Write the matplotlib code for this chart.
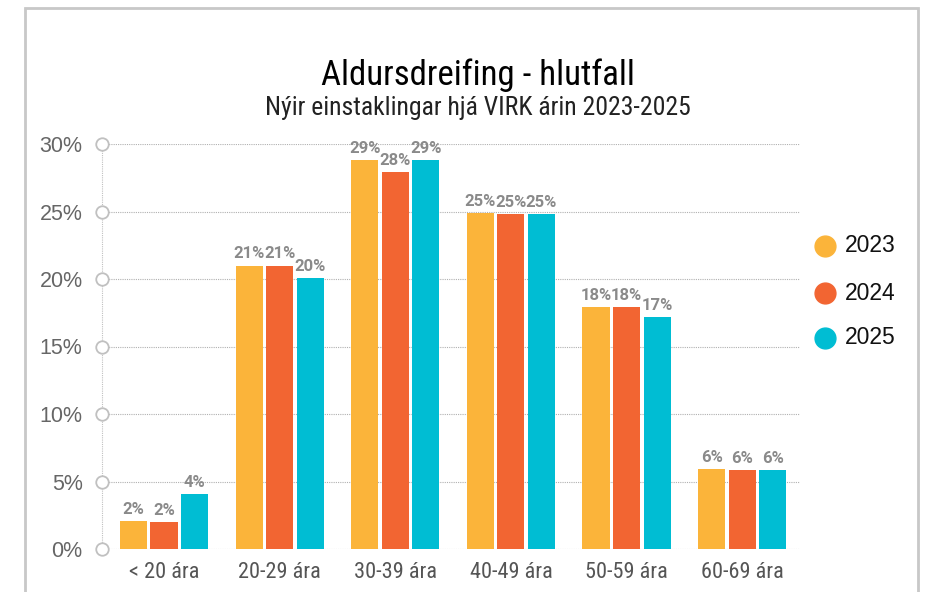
import matplotlib
matplotlib.use("Agg")
import matplotlib.pyplot as plt
import numpy as np
from matplotlib import font_manager
from matplotlib.patches import Rectangle

categories = ["< 20 ára", "20-29 ára", "30-39 ára", "40-49 ára", "50-59 ára", "60-69 ára"]
years = ["2023", "2024", "2025"]
share_2023 = [2.1, 21.0, 28.8, 24.9, 17.9, 5.9]
share_2024 = [2.0, 21.0, 27.9, 24.8, 17.9, 5.85]
share_2025 = [4.1, 20.1, 28.8, 24.8, 17.2, 5.85]
yticks = [0, 5, 10, 15, 20, 25, 30]

colors = ["#FBB43A", "#F26532", "#00BDD3"]
series = [share_2023, share_2024, share_2025]

names = {f.name for f in font_manager.fontManager.ttflist}
narrow_opts = [n for n in ["Roboto Condensed", "Liberation Sans Narrow", "Open Sans Condensed", "Roboto"] if n in names]
narrow = narrow_opts[0] if narrow_opts else "DejaVu Sans"
roboto = "Roboto" if "Roboto" in names else "DejaVu Sans"
arial = "Liberation Sans" if "Liberation Sans" in names else "DejaVu Sans"

W, H = 934, 592
fig = plt.figure(figsize=(W / 100, H / 100), dpi=100)
fig.patches.append(Rectangle((25 / W, -0.1), (918 - 25) / W, 1.1 - 8 / H, transform=fig.transFigure,
                             fill=False, edgecolor="#c8c8c8", linewidth=2))

ax = fig.add_axes([102 / W, (H - 549) / H, (800 - 102) / W, (549 - 144) / H])
ax.set_xlim(-0.536, 5.5)
ax.set_ylim(0, 30)
for s in ax.spines.values():
    s.set_visible(False)

# grid and y-axis
for t in yticks:
    ax.axhline(t, color="#b0b0b0", linestyle=(0, (1, 1)), linewidth=0.8, zorder=0)
ax.plot([-0.536, -0.536], [0, 30], color="#c0c0c0", linestyle=(0, (1, 1)), linewidth=0.8, clip_on=False, zorder=1)
ax.plot([-0.536] * len(yticks), yticks, "o", markersize=9, markerfacecolor="white",
        markeredgecolor="#c0c0c0", markeredgewidth=1.3, clip_on=False, zorder=3)
ax.set_yticks(yticks)
ax.set_yticklabels([f"{t}%" for t in yticks], fontsize=15.5, color="#666666", family=arial)
ax.tick_params(axis="y", length=0, pad=14)

x = np.arange(len(categories))
width = 0.234
offsets = [-0.264, 0, 0.264]
for vals, off, col in zip(series, offsets, colors):
    bars = ax.bar(x + off, vals, width=width, color=col, zorder=2)
    for b, v in zip(bars, vals):
        ax.text(b.get_x() + b.get_width() / 2, v + 0.3, f"{round(v):.0f}%", ha="center", va="bottom",
                fontsize=12, fontweight="bold", color="#8a8a8a", family=roboto)

ax.set_xticks(x)
ax.set_xticklabels(categories, fontsize=16, color="#555555", family=narrow)
ax.tick_params(axis="x", length=0, pad=9)

fig.text(478 / W, 1 - 75 / H, "Aldursdreifing - hlutfall", ha="center", va="center",
         fontsize=25, family=narrow, color="#000000")
fig.text(478 / W, 1 - 108 / H, "Nýir einstaklingar hjá VIRK árin 2023-2025", ha="center", va="center",
         fontsize=18.5, family=narrow, color="#222222")

legend_y = [246, 293, 338]
for yy, col, lab in zip(legend_y, colors, years):
    fig.lines.append(plt.Line2D([825 / W], [1 - yy / H], marker="o", markersize=15, color=col,
                                linestyle="none", transform=fig.transFigure))
    fig.text(845 / W, 1 - yy / H, lab, ha="left", va="center", fontsize=16.5, color="#111111", family=arial)

fig.savefig("out.png", dpi=100)
